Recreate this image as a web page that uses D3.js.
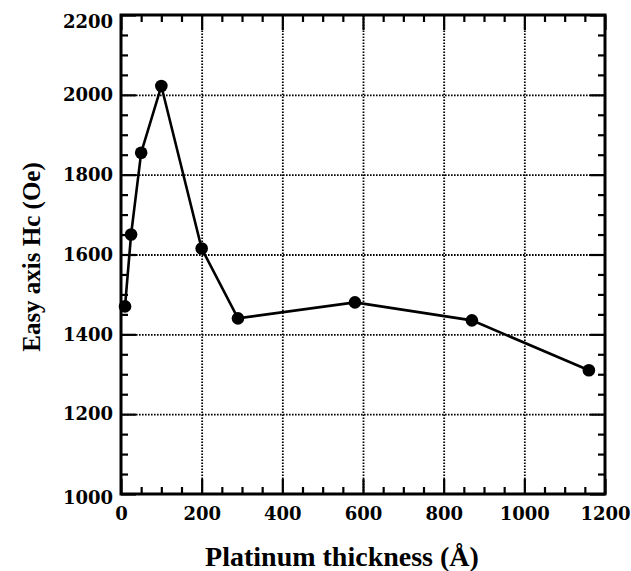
<!DOCTYPE html>
<html>
<head>
<meta charset="utf-8">
<script src="https://cdn.jsdelivr.net/npm/d3@7"></script>
<style>
  body { margin: 0; background: #fff; }
  svg { display: block; }
</style>
</head>
<body>
<div id="chart"></div>
<script>
// data
const thickness = [10, 25, 50, 100, 200, 290, 580, 870, 1160];
const coercivity = [1470, 1650, 1855, 2022, 1615, 1440, 1480, 1435, 1310];
const xTicks = [0, 200, 400, 600, 800, 1000, 1200];
const yTicks = [1000, 1200, 1400, 1600, 1800, 2000, 2200];

const width = 631, height = 571;
const margin = { top: 15, right: 26, bottom: 77, left: 121 };
const w = width - margin.left - margin.right;
const h = height - margin.top - margin.bottom;

const svg = d3.select('#chart').append('svg')
  .attr('width', width)
  .attr('height', height);

const g = svg.append('g')
  .attr('transform', 'translate(' + margin.left + ',' + margin.top + ')');

const x = d3.scaleLinear().domain([0, 1200]).range([0, w]);
const y = d3.scaleLinear().domain([1000, 2200]).range([h, 0]);

// minor ticks every 50
const xMinor = d3.range(0, 1201, 50).filter(v => v % 200 !== 0);
const yMinor = d3.range(1000, 2201, 50).filter(v => v % 200 !== 0);

// dotted grid
g.append('g')
  .attr('class', 'grid')
  .attr('transform', 'translate(0,' + h + ')')
  .call(d3.axisBottom(x).tickValues(xTicks.slice(1, -1)).tickSize(-h).tickFormat(''));
g.append('g')
  .attr('class', 'grid')
  .call(d3.axisLeft(y).tickValues(yTicks.slice(1, -1)).tickSize(-w).tickFormat(''));
g.selectAll('.grid .domain').remove();
g.selectAll('.grid line')
  .attr('stroke', '#000')
  .attr('stroke-width', 1.8)
  .attr('stroke-dasharray', '1.6,1.4');

// inward tick marks on all four sides
function ticks(axis, values, size) {
  return axis.tickValues(values).tickSize(size).tickSizeOuter(0).tickFormat('');
}
const tickGroups = [];
tickGroups.push(g.append('g').attr('transform', 'translate(0,' + h + ')')
  .call(ticks(d3.axisBottom(x), xMinor, -7)));
tickGroups.push(g.append('g').attr('transform', 'translate(0,' + h + ')')
  .call(ticks(d3.axisBottom(x), xTicks, -15)));
tickGroups.push(g.append('g')
  .call(ticks(d3.axisTop(x), xMinor, -7)));
tickGroups.push(g.append('g')
  .call(ticks(d3.axisTop(x), xTicks, -15)));
tickGroups.push(g.append('g')
  .call(ticks(d3.axisLeft(y), yMinor, -7)));
tickGroups.push(g.append('g')
  .call(ticks(d3.axisLeft(y), yTicks, -15)));
tickGroups.push(g.append('g').attr('transform', 'translate(' + w + ',0)')
  .call(ticks(d3.axisRight(y), yMinor, -7)));
tickGroups.push(g.append('g').attr('transform', 'translate(' + w + ',0)')
  .call(ticks(d3.axisRight(y), yTicks, -15)));
tickGroups.forEach(t => {
  t.select('.domain').remove();
  t.selectAll('line').attr('stroke', '#000').attr('stroke-width', 2.2);
});

// frame
g.append('rect')
  .attr('width', w)
  .attr('height', h)
  .attr('fill', 'none')
  .attr('stroke', '#000')
  .attr('stroke-width', 3);

// tick labels
const xLab = g.append('g')
  .attr('transform', 'translate(0,' + h + ')')
  .call(d3.axisBottom(x).tickValues(xTicks).tickSize(0).tickPadding(13).tickFormat(d3.format('d')));
const yLab = g.append('g')
  .call(d3.axisLeft(y).tickValues(yTicks).tickSize(0).tickPadding(8).tickFormat(d3.format('d')));
[xLab, yLab].forEach(a => {
  a.select('.domain').remove();
  a.selectAll('text')
    .attr('font-family', '"DejaVu Serif", serif')
    .attr('font-weight', 'bold')
    .attr('font-size', 18)
    .attr('fill', '#000');
});
yLab.selectAll('.tick')
  .filter(d => d === 2200)
  .select('text').attr('dy', '0.7em');
yLab.selectAll('.tick')
  .filter(d => d === 1000)
  .select('text').attr('dy', '0.55em');

// line + markers
const line = d3.line()
  .x((d, i) => x(thickness[i]))
  .y(d => y(d));

g.append('path')
  .datum(coercivity)
  .attr('fill', 'none')
  .attr('stroke', '#000')
  .attr('stroke-width', 2.6)
  .attr('d', line);

g.selectAll('circle.pt')
  .data(coercivity)
  .join('circle')
  .attr('class', 'pt')
  .attr('cx', (d, i) => x(thickness[i]))
  .attr('cy', d => y(d))
  .attr('r', 6.3)
  .attr('fill', '#000');

// axis titles
svg.append('text')
  .attr('x', 342)
  .attr('y', 566)
  .attr('text-anchor', 'middle')
  .attr('font-family', '"Liberation Serif", "Times New Roman", serif')
  .attr('font-weight', 'bold')
  .attr('font-size', 28)
  .text('Platinum thickness (Å)');

svg.append('text')
  .attr('transform', 'translate(40,257) rotate(-90)')
  .attr('text-anchor', 'middle')
  .attr('font-family', '"Liberation Serif", "Times New Roman", serif')
  .attr('font-weight', 'bold')
  .attr('font-size', 25)
  .text('Easy axis Hc (Oe)');
</script>
</body>
</html>
